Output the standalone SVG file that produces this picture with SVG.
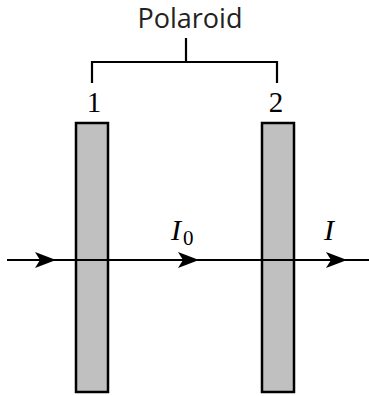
<svg xmlns="http://www.w3.org/2000/svg" width="369" height="396" viewBox="0 0 369 396">
<style>
.plate{fill:#c0c0c0;stroke:#000;stroke-width:2.5}
.line{fill:none;stroke:#000;stroke-width:2.2}
.lbl{font-family:"Open Sans",sans-serif;font-size:27px;fill:#222}
.num{font-family:"Liberation Serif",serif;font-size:29px;fill:#000}
.math{font-family:"Liberation Serif",serif;font-style:italic;font-size:30px;fill:#000}
.sub{font-family:"Liberation Serif",serif;font-size:21px;fill:#000}
</style>
<defs>
<marker id="ah" markerWidth="22" markerHeight="16" refX="20" refY="8" orient="auto" markerUnits="userSpaceOnUse">
<path d="M0,0 L21,8 L0,16 L5,8 Z" fill="#000"/>
</marker>
</defs>
<g id="label-polaroid">
<text class="lbl" x="190" y="28" text-anchor="middle">Polaroid</text>
</g>
<g id="polaroid-1">
<rect class="plate" x="76" y="123" width="32" height="269"/>
<text class="num" x="94" y="112" text-anchor="middle">1</text>
</g>
<g id="polaroid-2">
<rect class="plate" x="262" y="123" width="32" height="269"/>
<text class="num" x="276" y="112" text-anchor="middle">2</text>
</g>
<g id="label-I0">
<text class="math" x="171" y="240">I</text>
<text class="sub" x="183" y="245">0</text>
</g>
<g id="label-I">
<text class="math" x="324" y="240">I</text>
</g>
<g id="connectors">
<line class="line" x1="7" y1="260" x2="369" y2="260"/>
<line class="line" x1="7" y1="260" x2="55" y2="260" marker-end="url(#ah)"/>
<line class="line" x1="109" y1="260" x2="198" y2="260" marker-end="url(#ah)"/>
<line class="line" x1="295" y1="260" x2="346" y2="260" marker-end="url(#ah)"/>
<path class="line" d="M92,83 V62 H277 V83 M186,38 V62"/>
</g>
</svg>
